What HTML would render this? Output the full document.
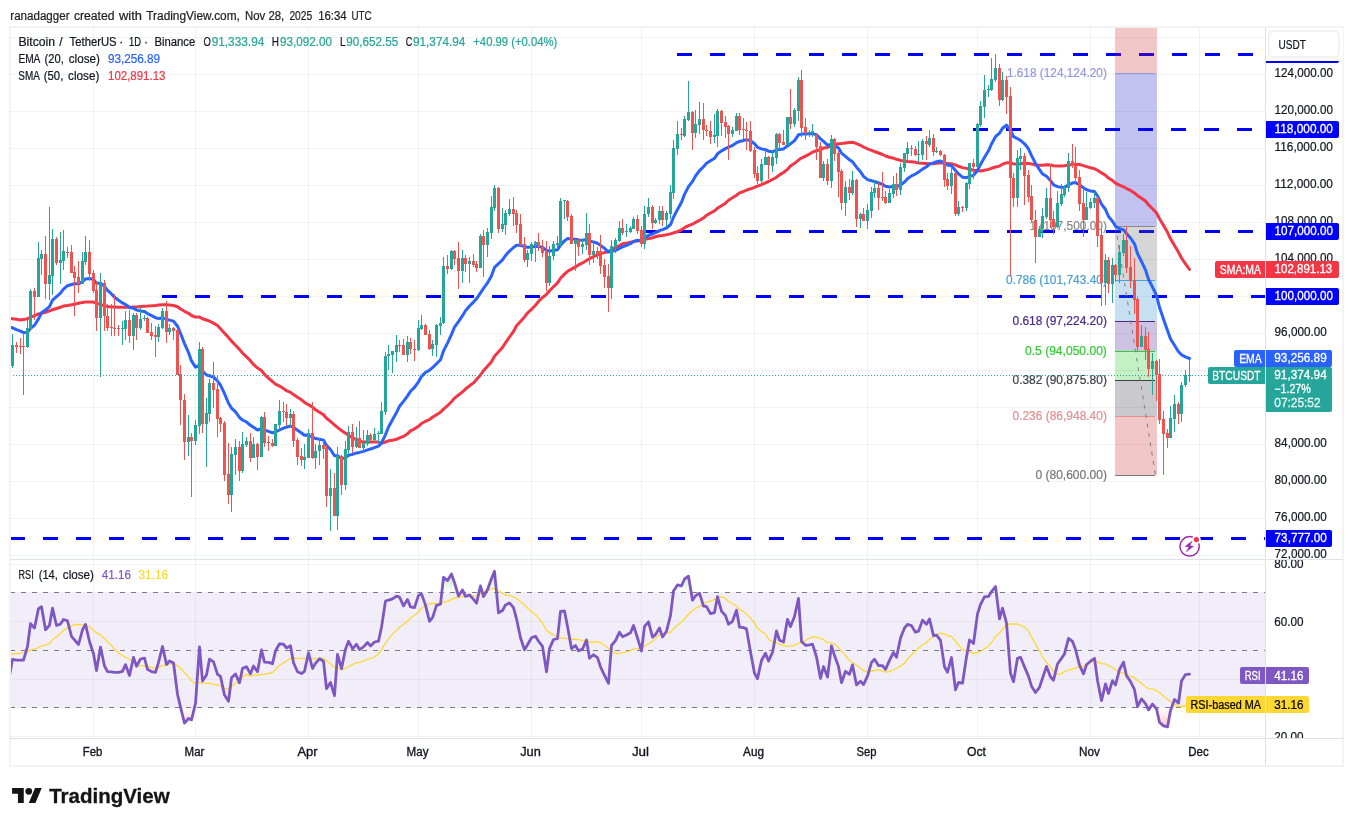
<!DOCTYPE html>
<html lang="en"><head><meta charset="utf-8"><title>BTCUSDT 1D - TradingView</title>
<style>html,body{margin:0;padding:0;background:#fff;overflow:hidden}body{width:1353px;height:826px}</style></head>
<body>
<svg width="1353" height="826" viewBox="0 0 1353 826" font-family='"Liberation Sans", Arial, sans-serif' font-size="12" fill="#131722" style="display:block">
<defs><clipPath id="cm"><rect x="11" y="28" width="1254" height="531"/></clipPath><clipPath id="cr"><rect x="11" y="560" width="1254" height="178"/></clipPath><clipPath id="cpa"><rect x="1266" y="28" width="77" height="531"/></clipPath><clipPath id="cra"><rect x="1266" y="560" width="77" height="178"/></clipPath><linearGradient id="gob" gradientUnits="userSpaceOnUse" x1="0" y1="564" x2="0" y2="593"><stop offset="0" stop-color="#4caf50" stop-opacity="0.5"/><stop offset="1" stop-color="#4caf50" stop-opacity="0"/></linearGradient><linearGradient id="gos" gradientUnits="userSpaceOnUse" x1="0" y1="708" x2="0" y2="737"><stop offset="0" stop-color="#ff5252" stop-opacity="0"/><stop offset="1" stop-color="#ff5252" stop-opacity="0.5"/></linearGradient></defs>
<rect x="0" y="0" width="1353" height="826" fill="#ffffff"/>
<rect x="10" y="27" width="1333" height="739" fill="#ffffff" stroke="#f3f3f3" stroke-width="2"/>
<text y="19.5" fill="#1e1e1e" stroke="#1e1e1e" stroke-width="0.22"><tspan x="10.3" textLength="59.2" lengthAdjust="spacingAndGlyphs">ranadagger</tspan> <tspan x="73.9" textLength="40.7" lengthAdjust="spacingAndGlyphs">created</tspan> <tspan x="119" textLength="22.9" lengthAdjust="spacingAndGlyphs">with</tspan> <tspan x="146.3" textLength="93.6" lengthAdjust="spacingAndGlyphs">TradingView.com,</tspan> <tspan x="245" textLength="39.2" lengthAdjust="spacingAndGlyphs">Nov 28,</tspan> <tspan x="289.4" textLength="22.9" lengthAdjust="spacingAndGlyphs">2025</tspan> <tspan x="318.2" textLength="28.5" lengthAdjust="spacingAndGlyphs">16:34</tspan> <tspan x="351.5" textLength="20.2" lengthAdjust="spacingAndGlyphs">UTC</tspan></text>
<g shape-rendering="crispEdges" stroke="#2a2e39" stroke-opacity="0.06">
<path d="M93.5 28V559"/>
<path d="M195.5 28V559"/>
<path d="M308.5 28V559"/>
<path d="M418.5 28V559"/>
<path d="M531.5 28V559"/>
<path d="M641.5 28V559"/>
<path d="M754.5 28V559"/>
<path d="M867.5 28V559"/>
<path d="M977.5 28V559"/>
<path d="M1090.5 28V559"/>
<path d="M1199.5 28V559"/>
<path d="M10 37.5H1265"/>
<path d="M10 74.5H1265"/>
<path d="M10 111.5H1265"/>
<path d="M10 148.5H1265"/>
<path d="M10 185.5H1265"/>
<path d="M10 222.5H1265"/>
<path d="M10 259.5H1265"/>
<path d="M10 296.5H1265"/>
<path d="M10 333.5H1265"/>
<path d="M10 370.5H1265"/>
<path d="M10 407.5H1265"/>
<path d="M10 444.5H1265"/>
<path d="M10 481.5H1265"/>
<path d="M10 518.5H1265"/>
<path d="M10 555.5H1265"/>
</g>
<rect x="11" y="592" width="1254" height="116" fill="#7e57c2" fill-opacity="0.1"/>
<g shape-rendering="crispEdges" stroke="#2a2e39" stroke-opacity="0.06">
<path d="M93.5 560V738"/>
<path d="M195.5 560V738"/>
<path d="M308.5 560V738"/>
<path d="M418.5 560V738"/>
<path d="M531.5 560V738"/>
<path d="M641.5 560V738"/>
<path d="M754.5 560V738"/>
<path d="M867.5 560V738"/>
<path d="M977.5 560V738"/>
<path d="M1090.5 560V738"/>
<path d="M1199.5 560V738"/>
<path d="M10 564.5H1265"/>
<path d="M10 621.5H1265"/>
<path d="M10 679.5H1265"/>
<path d="M10 736.5H1265"/>
</g>
<g clip-path="url(#cm)">
<path d="M677 54.5H1265" stroke="#0000ff" stroke-width="3" stroke-dasharray="15 18" fill="none" shape-rendering="crispEdges"/>
<path d="M874 129.5H1265" stroke="#0000ff" stroke-width="3" stroke-dasharray="15 18" fill="none" shape-rendering="crispEdges"/>
<path d="M644 231.5H1265" stroke="#0000ff" stroke-width="3" stroke-dasharray="15 18" fill="none" shape-rendering="crispEdges"/>
<path d="M162 296.5H1265" stroke="#0000ff" stroke-width="3" stroke-dasharray="15 18" fill="none" shape-rendering="crispEdges"/>
<path d="M10 538.5H1265" stroke="#0000ff" stroke-width="3" stroke-dasharray="15 18" fill="none" shape-rendering="crispEdges"/>
<rect x="1115" y="28" width="42" height="45.5" fill="#c81e1e" fill-opacity="0.25"/>
<rect x="1115" y="73.5" width="42" height="153" fill="#0a0ac8" fill-opacity="0.25"/>
<rect x="1115" y="226.5" width="42" height="54" fill="#5a5a5e" fill-opacity="0.25"/>
<rect x="1115" y="280.5" width="42" height="41" fill="#1c80c8" fill-opacity="0.25"/>
<rect x="1115" y="321.5" width="42" height="30" fill="#3a0a8a" fill-opacity="0.25"/>
<rect x="1115" y="351.5" width="42" height="29" fill="#14c814" fill-opacity="0.25"/>
<rect x="1115" y="380.5" width="42" height="36" fill="#28283c" fill-opacity="0.25"/>
<rect x="1115" y="416.5" width="42" height="59" fill="#c81e1e" fill-opacity="0.25"/>
<line x1="1115" y1="73.5" x2="1155" y2="73.5" stroke="#9598e3" stroke-width="1" shape-rendering="crispEdges"/>
<line x1="1115" y1="226.5" x2="1155" y2="226.5" stroke="#8a8a8a" stroke-width="1" shape-rendering="crispEdges"/>
<line x1="1115" y1="280.5" x2="1155" y2="280.5" stroke="#4a9fd4" stroke-width="1" shape-rendering="crispEdges"/>
<line x1="1115" y1="321.5" x2="1155" y2="321.5" stroke="#4b2a8a" stroke-width="1" shape-rendering="crispEdges"/>
<line x1="1115" y1="351.5" x2="1155" y2="351.5" stroke="#32cd32" stroke-width="1" shape-rendering="crispEdges"/>
<line x1="1115" y1="380.5" x2="1155" y2="380.5" stroke="#3f3f4a" stroke-width="1" shape-rendering="crispEdges"/>
<line x1="1115" y1="416.5" x2="1155" y2="416.5" stroke="#e58f8f" stroke-width="1" shape-rendering="crispEdges"/>
<line x1="1115" y1="475.5" x2="1155" y2="475.5" stroke="#787878" stroke-width="1" shape-rendering="crispEdges"/>
<path d="M1115.5 226.5L1155.5 475.5" stroke="#808080" stroke-width="1" stroke-dasharray="4 5.5" fill="none"/>
<text x="1106.9" y="77.2" fill="#9598e3" text-anchor="end" textLength="100" lengthAdjust="spacingAndGlyphs" stroke="#9598e3" stroke-width="0.22">1.618 (124,124.20)</text>
<text x="1106.9" y="230.2" fill="#8a8a8a" text-anchor="end" textLength="77.4" lengthAdjust="spacingAndGlyphs" stroke="#8a8a8a" stroke-width="0.22">1 (107,500.00)</text>
<text x="1106.9" y="284.2" fill="#4a9fd4" text-anchor="end" textLength="100.9" lengthAdjust="spacingAndGlyphs" stroke="#4a9fd4" stroke-width="0.22">0.786 (101,743.40)</text>
<text x="1106.9" y="325.2" fill="#4b2a8a" text-anchor="end" textLength="94.4" lengthAdjust="spacingAndGlyphs" stroke="#4b2a8a" stroke-width="0.22">0.618 (97,224.20)</text>
<text x="1106.9" y="355.2" fill="#32cd32" text-anchor="end" textLength="81.9" lengthAdjust="spacingAndGlyphs" stroke="#32cd32" stroke-width="0.22">0.5 (94,050.00)</text>
<text x="1106.9" y="384.2" fill="#3f3f4a" text-anchor="end" textLength="94.4" lengthAdjust="spacingAndGlyphs" stroke="#3f3f4a" stroke-width="0.22">0.382 (90,875.80)</text>
<text x="1106.9" y="420.2" fill="#e58f8f" text-anchor="end" textLength="94.4" lengthAdjust="spacingAndGlyphs" stroke="#e58f8f" stroke-width="0.22">0.236 (86,948.40)</text>
<text x="1106.9" y="479.2" fill="#787878" text-anchor="end" textLength="71.4" lengthAdjust="spacingAndGlyphs" stroke="#787878" stroke-width="0.22">0 (80,600.00)</text>
<path d="M9.5 318.2L12.5 318.7L16.5 319.3L20.5 320L23.5 319.6L27.5 318.7L30.5 317.3L34.5 315.6L38.5 314L41.5 313.2L45.5 312.4L49.5 310.8L52.5 309.7L56.5 308.5L60.5 307.2L63.5 306.1L67.5 305.5L71.5 304.8L74.5 304.2L78.5 303.3L82.5 302.4L85.5 302.1L89.5 301.9L93.5 302.1L96.5 303.1L100.5 304.5L104.5 305.9L107.5 306.5L111.5 306.9L114.5 307.1L118.5 307.3L122.5 307.3L125.5 307.3L129.5 307.3L133.5 307.1L136.5 306.9L140.5 306.5L144.5 306.2L147.5 306.1L151.5 305.8L155.5 305.4L158.5 305L162.5 304.8L166.5 304.8L169.5 305L173.5 305.5L177.5 306.8L180.5 309L184.5 311.3L188.5 313.3L191.5 315.5L195.5 317.1L199.5 317.1L202.5 318.7L206.5 320L209.5 321.1L213.5 323.1L217.5 325.5L220.5 328.8L224.5 333.2L228.5 337.5L231.5 341.1L235.5 345.2L239.5 349.4L242.5 353L246.5 356.8L250.5 360.9L253.5 364.4L257.5 368L261.5 370.6L264.5 374.3L268.5 378.1L272.5 381.5L275.5 384.2L279.5 386.1L283.5 388.6L286.5 390.7L290.5 392.4L293.5 394.6L297.5 397.2L301.5 399.8L304.5 402.4L308.5 404.7L312.5 407.1L315.5 409.8L319.5 412.2L323.5 414.8L326.5 418.3L330.5 421.4L334.5 425L337.5 427.4L341.5 430.6L345.5 433.3L348.5 435.3L352.5 437.7L356.5 439.8L359.5 441.3L363.5 442.1L367.5 442L370.5 442.1L374.5 441.9L378.5 442.1L381.5 443.3L385.5 442L388.5 440.8L392.5 440.2L396.5 439.3L399.5 437.8L403.5 436.4L407.5 433.8L410.5 430.9L414.5 428.8L418.5 426.4L421.5 423.5L425.5 421.3L429.5 419.5L432.5 417.2L436.5 414.8L440.5 412.2L443.5 409.1L447.5 405.7L451.5 401.8L454.5 398.1L458.5 395L462.5 391.9L465.5 389L469.5 385.8L473.5 382.9L476.5 379.4L480.5 375L483.5 370.7L487.5 366.2L491.5 361.7L494.5 356.3L498.5 351.8L502.5 347.4L505.5 342.7L509.5 337L513.5 331.5L516.5 325.7L520.5 321.4L524.5 316.9L527.5 313L531.5 309.3L535.5 305.2L538.5 301.4L542.5 297.5L546.5 294.3L549.5 290.7L553.5 286.8L557.5 282.9L560.5 278.3L564.5 274.1L567.5 271.3L571.5 269.1L575.5 266.9L578.5 264.9L582.5 262.9L586.5 260.4L589.5 258.7L593.5 256.7L597.5 254.8L600.5 253.6L604.5 252.6L608.5 251.6L611.5 249.6L615.5 247.5L619.5 245.6L622.5 243.8L626.5 243.1L630.5 242.2L633.5 241.6L637.5 241L641.5 240.5L644.5 239.6L648.5 238.5L652.5 237.7L655.5 236.8L659.5 235.7L662.5 235.4L666.5 234.7L670.5 233.9L673.5 232.8L677.5 231.7L681.5 229.8L684.5 227.7L688.5 225.7L692.5 224.2L695.5 222.4L699.5 220.3L703.5 218L706.5 215.4L710.5 213L714.5 210.9L717.5 208.2L721.5 205.7L725.5 203.2L728.5 200.2L732.5 197.7L736.5 195.2L739.5 192.9L743.5 191.5L746.5 190.1L750.5 188.8L754.5 187.4L757.5 186.2L761.5 184.6L765.5 182.8L768.5 181.5L772.5 179.5L776.5 177.2L779.5 174.9L783.5 172.5L787.5 169.3L790.5 166L794.5 163.3L798.5 160.1L801.5 158.1L805.5 156.1L809.5 154.1L812.5 152.2L816.5 150.7L820.5 149.7L823.5 148.1L827.5 147.4L831.5 146L834.5 144.7L838.5 143.7L841.5 143.5L845.5 142.9L849.5 142.5L852.5 142.2L856.5 143.7L860.5 145.3L863.5 147L867.5 148.8L871.5 150.4L874.5 151.5L878.5 153L882.5 154.5L885.5 156L889.5 157.2L893.5 158.2L896.5 159.3L900.5 160.4L904.5 161L907.5 161.4L911.5 161.8L915.5 162.3L918.5 163L922.5 163.2L926.5 163.5L929.5 163.7L933.5 163.7L936.5 163.2L940.5 162.7L944.5 163L947.5 163.6L951.5 163.7L955.5 164.9L958.5 166.3L962.5 167.6L966.5 168.4L969.5 169.3L973.5 170.2L977.5 170.5L980.5 171L984.5 170.2L988.5 169.4L991.5 168.3L995.5 167L999.5 166.1L1002.5 164.2L1006.5 162.8L1010.5 162.8L1013.5 163.9L1017.5 164L1020.5 163.7L1024.5 163.2L1028.5 163.4L1031.5 163.9L1035.5 165L1039.5 165.2L1042.5 165.3L1046.5 164.8L1050.5 165L1053.5 165.7L1057.5 166L1061.5 166L1064.5 165.7L1068.5 164.9L1072.5 164.4L1075.5 164.2L1079.5 164.5L1083.5 165.6L1086.5 166.6L1090.5 167.7L1094.5 168.7L1097.5 170.3L1101.5 172.9L1105.5 175.3L1108.5 178.1L1112.5 180.6L1115.5 183.1L1119.5 185.1L1123.5 186.8L1126.5 188.5L1130.5 190.4L1134.5 193L1137.5 195.6L1141.5 198.2L1145.5 201L1148.5 204.8L1152.5 208.7L1156.5 212.9L1159.5 218.8L1163.5 225.4L1167.5 232.3L1170.5 238.9L1174.5 245.4L1178.5 252.3L1181.5 258L1185.5 263.9L1189.5 269.5" fill="none" stroke="#f23645" stroke-width="3" stroke-linejoin="round" stroke-linecap="round"/>
<path d="M6 326.6L12.5 327.8L16.5 329.6L20.5 331.2L23.5 332.7L27.5 332.3L30.5 328.4L34.5 325.3L38.5 318.9L41.5 312.8L45.5 310L49.5 306.7L52.5 300.2L56.5 296.7L60.5 293.2L63.5 289.2L67.5 285.7L71.5 284.5L74.5 283.8L78.5 283.8L82.5 281.7L85.5 278.9L89.5 278.4L93.5 279.5L96.5 283.2L100.5 283.2L104.5 286.3L107.5 290.3L111.5 293.9L114.5 297.2L118.5 300.2L122.5 302.9L125.5 304.5L129.5 307.5L133.5 308.2L136.5 310.1L140.5 310.9L144.5 311.6L147.5 313.6L151.5 315.7L155.5 317.7L158.5 318.6L162.5 317.9L166.5 319.3L169.5 320.1L173.5 321.1L177.5 326.2L180.5 333.3L184.5 343.6L188.5 352.5L191.5 360.9L195.5 367.1L199.5 365.4L202.5 371L206.5 375L209.5 375.8L213.5 377.1L217.5 381L220.5 385.1L224.5 393.6L228.5 403.3L231.5 408.1L235.5 411.9L239.5 417.5L242.5 420L246.5 422L250.5 425.4L253.5 427.2L257.5 430L261.5 428.8L264.5 430.1L268.5 431.4L272.5 432.8L275.5 431.9L279.5 430L283.5 428.2L286.5 427.2L290.5 426L293.5 427.4L297.5 430.2L301.5 433L304.5 435.3L308.5 435.1L312.5 437.2L315.5 438.6L319.5 439.2L323.5 440.1L326.5 445.4L330.5 449.5L334.5 455.8L337.5 455.8L341.5 458.6L345.5 457.7L348.5 455.3L352.5 454.4L356.5 452.9L359.5 452.4L363.5 451.4L367.5 449.9L370.5 449L374.5 447.6L378.5 446.2L381.5 442.9L385.5 434.6L388.5 427L392.5 419.7L396.5 412.6L399.5 406.3L403.5 401.4L407.5 395.8L410.5 391.3L414.5 387.4L418.5 381.8L421.5 376.4L425.5 372.4L429.5 370.2L432.5 367.7L436.5 363.7L440.5 359.8L443.5 350.9L447.5 343.1L451.5 334.3L454.5 327.1L458.5 321.7L462.5 315.7L465.5 310.7L469.5 306L473.5 302.1L476.5 298.8L480.5 292.8L483.5 288.3L487.5 282.9L491.5 275.7L494.5 267.4L498.5 263.7L502.5 259.9L505.5 255.5L509.5 251.1L513.5 247.5L516.5 245.3L520.5 245.3L524.5 246.7L527.5 247.3L531.5 247L535.5 246.6L538.5 246.6L542.5 247.2L546.5 250.6L549.5 251.1L553.5 250.5L557.5 249.8L560.5 245.1L564.5 240.9L567.5 238.6L571.5 239.1L575.5 239.2L578.5 239.9L582.5 240.3L586.5 239.6L589.5 241.1L593.5 242L597.5 243.2L600.5 245.4L604.5 248.3L608.5 252.1L611.5 251.5L615.5 250.4L619.5 248.3L622.5 246.9L626.5 245.3L630.5 243.7L633.5 241.4L637.5 240.3L641.5 240.7L644.5 238.1L648.5 235.2L652.5 234L655.5 232.6L659.5 230.6L662.5 229.6L666.5 228L670.5 224.6L673.5 217.3L677.5 209.4L681.5 202.3L684.5 194.4L688.5 186.6L692.5 181.4L695.5 176L699.5 170.6L703.5 166.7L706.5 163.3L710.5 160.8L714.5 158.3L717.5 153.8L721.5 150.9L725.5 148.6L728.5 147.2L732.5 145.5L736.5 142.7L739.5 141.5L743.5 140.5L746.5 139.6L750.5 140.7L754.5 143.8L757.5 147.3L761.5 148.9L765.5 149.7L768.5 151.2L772.5 151.8L776.5 150.1L779.5 149.4L783.5 148.9L787.5 145.9L790.5 143.8L794.5 140.6L798.5 134.8L801.5 134.1L805.5 134L809.5 133.8L812.5 133.6L816.5 134.8L820.5 138.9L823.5 141.3L827.5 145.1L831.5 144.5L834.5 145.4L838.5 147.9L841.5 153.1L845.5 156.4L849.5 159.8L852.5 161.8L856.5 167.2L860.5 171.7L863.5 176.4L867.5 179.6L871.5 180.8L874.5 181.5L878.5 183L882.5 184.4L885.5 186.2L889.5 186.9L893.5 186.6L896.5 186.9L900.5 185L904.5 182L907.5 178.8L911.5 175.9L915.5 174L918.5 172.1L922.5 169.1L926.5 166.8L929.5 164.1L933.5 162.9L936.5 161.7L940.5 161.1L944.5 162.9L947.5 165.1L951.5 165.8L955.5 170.4L958.5 173.9L962.5 177.2L966.5 177.7L969.5 176.3L973.5 175.4L977.5 170.5L980.5 164.4L984.5 157.3L988.5 150.8L991.5 144L995.5 136.7L999.5 133.2L1002.5 128.2L1006.5 125.2L1010.5 130.2L1013.5 136.7L1017.5 138.7L1020.5 140.4L1024.5 143.8L1028.5 148.8L1031.5 155.6L1035.5 163.3L1039.5 169.6L1042.5 174L1046.5 176.3L1050.5 180.5L1053.5 184.9L1057.5 186.6L1061.5 187.4L1064.5 187.3L1068.5 184.9L1072.5 183L1075.5 182.6L1079.5 184.6L1083.5 187.9L1086.5 189.7L1090.5 190.9L1094.5 191.6L1097.5 195.8L1101.5 204.1L1105.5 209.5L1108.5 216.5L1112.5 221.2L1115.5 226.3L1119.5 228.7L1123.5 229.8L1126.5 233.5L1130.5 238L1134.5 243.8L1137.5 253.6L1141.5 261.5L1145.5 269.9L1148.5 279.3L1152.5 287.1L1156.5 295.5L1159.5 307.3L1163.5 319.3L1167.5 330.6L1170.5 338.9L1174.5 345.2L1178.5 351.7L1181.5 354.8L1185.5 356.8L1189.5 358.5" fill="none" stroke="#2962ff" stroke-width="3" stroke-linejoin="round" stroke-linecap="round"/>
<path d="M12 334h1v34h-1zM11 345h3v21h-3zM27 320h1v28h-1zM26 328h3v19h-3zM30 289h1v40h-1zM29 291h3v38h-3zM38 242h1v55h-1zM37 258h3v39h-3zM41 250h1v25h-1zM40 254h3v5h-3zM49 207h1v93h-1zM48 275h3v9h-3zM52 229h1v66h-1zM51 239h3v37h-3zM60 232h1v52h-1zM59 260h3v3h-3zM63 230h1v40h-1zM62 251h3v10h-3zM82 252h1v32h-1zM81 261h3v23h-3zM85 236h1v29h-1zM84 252h3v10h-3zM100 273h1v104h-1zM99 283h3v35h-3zM122 321h1v24h-1zM121 328h3v1h-3zM125 311h1v29h-1zM124 320h3v9h-3zM133 313h1v37h-1zM132 315h3v21h-3zM140 307h1v23h-1zM139 319h3v9h-3zM144 315h1v6h-1zM143 318h3v1h-3zM158 324h1v18h-1zM157 327h3v10h-3zM162 308h1v21h-1zM161 311h3v17h-3zM169 324h1v11h-1zM168 328h3v4h-3zM188 415h1v41h-1zM187 437h3v5h-3zM195 420h1v25h-1zM194 425h3v16h-3zM199 342h1v92h-1zM198 349h3v77h-3zM206 398h1v69h-1zM205 413h3v11h-3zM209 379h1v43h-1zM208 383h3v31h-3zM231 447h1v65h-1zM230 454h3v41h-3zM235 439h1v36h-1zM234 447h3v8h-3zM242 432h1v41h-1zM241 444h3v27h-3zM246 437h1v10h-1zM245 441h3v4h-3zM253 437h1v21h-1zM252 444h3v14h-3zM261 416h1v41h-1zM260 417h3v40h-3zM275 424h1v22h-1zM274 424h3v22h-3zM279 400h1v30h-1zM278 411h3v14h-3zM290 409h1v18h-1zM289 414h3v4h-3zM304 444h1v25h-1zM303 457h3v3h-3zM308 429h1v29h-1zM307 433h3v25h-3zM315 444h1v25h-1zM314 451h3v7h-3zM319 438h1v27h-1zM318 445h3v6h-3zM330 469h1v62h-1zM329 488h3v8h-3zM337 447h1v83h-1zM336 456h3v60h-3zM345 441h1v49h-1zM344 449h3v36h-3zM348 426h1v28h-1zM347 432h3v18h-3zM356 427h1v21h-1zM355 438h3v9h-3zM363 430h1v22h-1zM362 443h3v5h-3zM367 430h1v16h-1zM366 435h3v9h-3zM374 428h1v13h-1zM373 434h3v6h-3zM378 431h1v12h-1zM377 433h3v1h-3zM381 402h1v32h-1zM380 411h3v23h-3zM385 352h1v63h-1zM384 356h3v56h-3zM388 345h1v25h-1zM387 354h3v2h-3zM392 351h1v22h-1zM391 351h3v4h-3zM396 335h1v27h-1zM395 345h3v7h-3zM407 336h1v26h-1zM406 342h3v13h-3zM418 320h1v31h-1zM417 328h3v22h-3zM421 315h1v15h-1zM420 325h3v4h-3zM432 340h1v16h-1zM431 344h3v5h-3zM436 324h1v33h-1zM435 325h3v20h-3zM440 317h1v18h-1zM439 323h3v3h-3zM443 257h1v67h-1zM442 266h3v57h-3zM451 250h1v20h-1zM450 251h3v18h-3zM462 250h1v33h-1zM461 258h3v13h-3zM469 257h1v26h-1zM468 261h3v3h-3zM480 234h1v34h-1zM479 236h3v32h-3zM487 228h1v29h-1zM486 232h3v13h-3zM491 196h1v43h-1zM490 207h3v26h-3zM494 185h1v26h-1zM493 188h3v20h-3zM502 208h1v24h-1zM501 224h3v5h-3zM505 210h1v25h-1zM504 213h3v12h-3zM509 199h1v17h-1zM508 209h3v5h-3zM527 250h1v17h-1zM526 253h3v7h-3zM531 242h1v19h-1zM530 244h3v10h-3zM535 241h1v21h-1zM534 242h3v3h-3zM549 246h1v40h-1zM548 256h3v27h-3zM553 241h1v19h-1zM552 244h3v12h-3zM557 236h1v13h-1zM556 243h3v2h-3zM560 198h1v48h-1zM559 201h3v43h-3zM564 200h1v19h-1zM563 200h3v1h-3zM575 239h1v32h-1zM574 240h3v4h-3zM582 239h1v15h-1zM581 244h3v3h-3zM586 213h1v37h-1zM585 233h3v12h-3zM593 244h1v19h-1zM592 251h3v4h-3zM611 240h1v59h-1zM610 246h3v42h-3zM615 238h1v15h-1zM614 240h3v7h-3zM619 221h1v21h-1zM618 228h3v13h-3zM626 224h1v13h-1zM625 231h3v1h-3zM630 226h1v7h-1zM629 228h3v4h-3zM633 217h1v12h-1zM632 219h3v10h-3zM644 206h1v43h-1zM643 214h3v30h-3zM648 198h1v19h-1zM647 207h3v7h-3zM655 218h1v6h-1zM654 220h3v3h-3zM659 206h1v18h-1zM658 211h3v9h-3zM666 211h1v16h-1zM665 213h3v7h-3zM670 185h1v34h-1zM669 192h3v22h-3zM673 140h1v59h-1zM672 148h3v45h-3zM677 121h1v34h-1zM676 134h3v15h-3zM684 116h1v21h-1zM683 119h3v17h-3zM688 81h1v40h-1zM687 112h3v8h-3zM695 110h1v28h-1zM694 124h3v9h-3zM699 102h1v32h-1zM698 119h3v6h-3zM714 114h1v29h-1zM713 135h3v2h-3zM717 109h1v38h-1zM716 111h3v25h-3zM732 127h1v10h-1zM731 130h3v4h-3zM736 113h1v18h-1zM735 116h3v15h-3zM761 159h1v27h-1zM760 164h3v17h-3zM765 150h1v15h-1zM764 157h3v8h-3zM772 151h1v21h-1zM771 157h3v9h-3zM776 133h1v31h-1zM775 134h3v24h-3zM787 117h1v28h-1zM786 117h3v28h-3zM794 108h1v19h-1zM793 110h3v14h-3zM798 77h1v44h-1zM797 80h3v31h-3zM809 130h1v7h-1zM808 132h3v1h-3zM812 124h1v13h-1zM811 131h3v2h-3zM823 161h1v20h-1zM822 164h3v14h-3zM831 135h1v53h-1zM830 139h3v42h-3zM845 181h1v35h-1zM844 187h3v16h-3zM852 171h1v24h-1zM851 180h3v13h-3zM860 213h1v15h-1zM859 214h3v5h-3zM867 204h1v25h-1zM866 210h3v11h-3zM871 187h1v31h-1zM870 192h3v19h-3zM874 180h1v18h-1zM873 188h3v5h-3zM889 189h1v14h-1zM888 193h3v10h-3zM893 176h1v22h-1zM892 184h3v10h-3zM900 163h1v32h-1zM899 167h3v23h-3zM904 153h1v19h-1zM903 153h3v15h-3zM907 142h1v18h-1zM906 148h3v6h-3zM918 141h1v22h-1zM917 154h3v1h-3zM922 139h1v21h-1zM921 141h3v14h-3zM929 130h1v17h-1zM928 138h3v7h-3zM936 147h1v6h-1zM935 151h3v1h-3zM951 167h1v27h-1zM950 173h3v13h-3zM958 201h1v15h-1zM957 207h3v7h-3zM966 182h1v29h-1zM965 183h3v25h-3zM969 163h1v26h-1zM968 163h3v21h-3zM977 123h1v45h-1zM976 124h3v43h-3zM980 101h1v26h-1zM979 106h3v19h-3zM984 75h1v43h-1zM983 90h3v17h-3zM988 85h1v12h-1zM987 89h3v1h-3zM991 58h1v33h-1zM990 79h3v11h-3zM995 54h1v28h-1zM994 68h3v12h-3zM1002 72h1v29h-1zM1001 80h3v20h-3zM1017 150h1v57h-1zM1016 158h3v40h-3zM1020 148h1v22h-1zM1019 156h3v3h-3zM1039 226h1v11h-1zM1038 229h3v8h-3zM1042 208h1v30h-1zM1041 216h3v13h-3zM1046 188h1v31h-1zM1045 198h3v19h-3zM1057 191h1v37h-1zM1056 203h3v24h-3zM1061 184h1v22h-1zM1060 194h3v10h-3zM1064 185h1v12h-1zM1063 187h3v8h-3zM1068 153h1v39h-1zM1067 161h3v27h-3zM1086 192h1v28h-1zM1085 207h3v13h-3zM1090 198h1v11h-1zM1089 202h3v6h-3zM1094 192h1v16h-1zM1093 198h3v5h-3zM1105 254h1v51h-1zM1104 260h3v23h-3zM1112 258h1v45h-1zM1111 265h3v19h-3zM1119 245h1v38h-1zM1118 252h3v23h-3zM1123 234h1v22h-1zM1122 240h3v13h-3zM1141 325h1v22h-1zM1140 336h3v11h-3zM1152 353h1v42h-1zM1151 361h3v8h-3zM1170 406h1v32h-1zM1169 418h3v20h-3zM1174 395h1v37h-1zM1173 404h3v15h-3zM1181 382h1v40h-1zM1180 385h3v29h-3zM1185 370h1v17h-1zM1184 375h3v10h-3zM1189 360h1v22h-1zM1188 375h3v1h-3z" fill="#26a69a" shape-rendering="crispEdges"/>
<path d="M16 342h1v11h-1zM15 345h3v2h-3zM20 338h1v16h-1zM19 346h3v1h-3zM23 333h1v62h-1zM22 346h3v1h-3zM34 288h1v32h-1zM33 291h3v6h-3zM45 236h1v63h-1zM44 254h3v30h-3zM56 237h1v28h-1zM55 239h3v24h-3zM67 247h1v11h-1zM66 252h3v1h-3zM71 245h1v28h-1zM70 252h3v21h-3zM74 266h1v50h-1zM73 272h3v6h-3zM78 261h1v32h-1zM77 277h3v7h-3zM89 240h1v41h-1zM88 252h3v22h-3zM93 270h1v23h-1zM92 273h3v18h-3zM96 282h1v49h-1zM95 290h3v28h-3zM104 280h1v51h-1zM103 283h3v33h-3zM107 304h1v27h-1zM106 316h3v12h-3zM111 304h1v32h-1zM110 327h3v1h-3zM114 294h1v42h-1zM113 328h3v1h-3zM118 325h1v11h-1zM117 328h3v1h-3zM129 310h1v33h-1zM128 320h3v16h-3zM136 313h1v27h-1zM135 315h3v13h-3zM147 317h1v16h-1zM146 318h3v15h-3zM151 323h1v17h-1zM150 332h3v4h-3zM155 326h1v31h-1zM154 335h3v2h-3zM166 301h1v42h-1zM165 311h3v21h-3zM173 327h1v13h-1zM172 328h3v3h-3zM177 328h1v47h-1zM176 330h3v45h-3zM180 365h1v60h-1zM179 374h3v26h-3zM184 394h1v66h-1zM183 400h3v42h-3zM191 433h1v64h-1zM190 437h3v4h-3zM202 347h1v86h-1zM201 349h3v75h-3zM213 362h1v46h-1zM212 383h3v7h-3zM217 375h1v62h-1zM216 389h3v30h-3zM220 417h1v15h-1zM219 418h3v6h-3zM224 421h1v60h-1zM223 423h3v52h-3zM228 443h1v61h-1zM227 474h3v21h-3zM239 441h1v40h-1zM238 447h3v24h-3zM250 433h1v29h-1zM249 441h3v17h-3zM257 443h1v27h-1zM256 444h3v13h-3zM264 412h1v35h-1zM263 417h3v26h-3zM268 436h1v15h-1zM267 442h3v1h-3zM272 439h1v8h-1zM271 443h3v3h-3zM283 402h1v20h-1zM282 411h3v1h-3zM286 404h1v22h-1zM285 412h3v6h-3zM293 411h1v36h-1zM292 414h3v27h-3zM297 438h1v27h-1zM296 440h3v17h-3zM301 448h1v18h-1zM300 456h3v4h-3zM312 402h1v57h-1zM311 433h3v25h-3zM323 441h1v18h-1zM322 445h3v4h-3zM326 445h1v62h-1zM325 448h3v48h-3zM334 473h1v43h-1zM333 488h3v28h-3zM341 455h1v40h-1zM340 456h3v29h-3zM352 424h1v29h-1zM351 432h3v15h-3zM359 421h1v27h-1zM358 438h3v10h-3zM370 433h1v8h-1zM369 435h3v5h-3zM399 340h1v12h-1zM398 345h3v1h-3zM403 339h1v16h-1zM402 345h3v10h-3zM410 338h1v16h-1zM409 342h3v7h-3zM414 340h1v21h-1zM413 349h3v1h-3zM425 324h1v11h-1zM424 325h3v10h-3zM429 330h1v20h-1zM428 334h3v15h-3zM447 255h1v19h-1zM446 266h3v3h-3zM454 250h1v15h-1zM453 251h3v8h-3zM458 242h1v47h-1zM457 258h3v13h-3zM465 255h1v17h-1zM464 258h3v6h-3zM473 254h1v13h-1zM472 261h3v4h-3zM476 261h1v11h-1zM475 264h3v4h-3zM483 230h1v47h-1zM482 236h3v9h-3zM498 187h1v46h-1zM497 188h3v41h-3zM513 197h1v29h-1zM512 209h3v5h-3zM516 210h1v23h-1zM515 213h3v12h-3zM520 214h1v32h-1zM519 224h3v21h-3zM524 237h1v25h-1zM523 244h3v16h-3zM538 233h1v18h-1zM537 242h3v5h-3zM542 240h1v17h-1zM541 247h3v6h-3zM546 241h1v50h-1zM545 252h3v31h-3zM567 200h1v21h-1zM566 201h3v16h-3zM571 214h1v30h-1zM570 216h3v28h-3zM578 238h1v18h-1zM577 240h3v7h-3zM589 224h1v41h-1zM588 233h3v22h-3zM597 247h1v12h-1zM596 251h3v3h-3zM600 235h1v39h-1zM599 251h3v15h-3zM604 259h1v29h-1zM603 265h3v12h-3zM608 264h1v48h-1zM607 276h3v12h-3zM622 219h1v16h-1zM621 228h3v5h-3zM637 215h1v19h-1zM636 219h3v12h-3zM641 226h1v21h-1zM640 230h3v14h-3zM652 205h1v24h-1zM651 207h3v16h-3zM662 206h1v20h-1zM661 211h3v9h-3zM681 128h1v12h-1zM680 134h3v1h-3zM692 111h1v39h-1zM691 112h3v21h-3zM703 103h1v37h-1zM702 119h3v11h-3zM706 125h1v11h-1zM705 130h3v1h-3zM710 121h1v23h-1zM709 131h3v6h-3zM721 110h1v26h-1zM720 111h3v12h-3zM725 116h1v22h-1zM724 122h3v5h-3zM728 125h1v35h-1zM727 126h3v8h-3zM739 113h1v22h-1zM738 116h3v14h-3zM743 118h1v21h-1zM742 129h3v1h-3zM746 122h1v28h-1zM745 130h3v1h-3zM750 121h1v31h-1zM749 131h3v20h-3zM754 147h1v31h-1zM753 150h3v24h-3zM757 166h1v18h-1zM756 173h3v8h-3zM768 156h1v23h-1zM767 157h3v8h-3zM779 133h1v16h-1zM778 134h3v9h-3zM783 130h1v15h-1zM782 142h3v3h-3zM790 89h1v40h-1zM789 117h3v7h-3zM801 70h1v67h-1zM800 80h3v48h-3zM805 118h1v22h-1zM804 127h3v6h-3zM816 134h1v26h-1zM815 135h3v12h-3zM820 142h1v36h-1zM819 146h3v32h-3zM827 159h1v26h-1zM826 164h3v17h-3zM834 138h1v23h-1zM833 139h3v15h-3zM838 151h1v46h-1zM837 153h3v19h-3zM841 169h1v41h-1zM840 171h3v32h-3zM849 179h1v21h-1zM848 187h3v6h-3zM856 179h1v48h-1zM855 180h3v39h-3zM863 208h1v13h-1zM862 214h3v7h-3zM878 183h1v27h-1zM877 188h3v10h-3zM882 172h1v29h-1zM881 197h3v1h-3zM885 191h1v13h-1zM884 197h3v6h-3zM896 173h1v23h-1zM895 184h3v6h-3zM911 145h1v11h-1zM910 148h3v1h-3zM915 146h1v10h-1zM914 149h3v6h-3zM926 136h1v24h-1zM925 141h3v3h-3zM933 134h1v22h-1zM932 138h3v14h-3zM940 150h1v6h-1zM939 151h3v4h-3zM944 154h1v33h-1zM943 155h3v25h-3zM947 173h1v17h-1zM946 179h3v7h-3zM955 171h1v45h-1zM954 173h3v41h-3zM962 206h1v6h-1zM961 207h3v1h-3zM973 159h1v20h-1zM972 163h3v4h-3zM999 64h1v42h-1zM998 68h3v32h-3zM1006 76h1v38h-1zM1005 80h3v17h-3zM1010 87h1v189h-1zM1009 96h3v82h-3zM1013 173h1v34h-1zM1012 178h3v20h-3zM1024 153h1v52h-1zM1023 156h3v20h-3zM1028 170h1v32h-1zM1027 175h3v22h-3zM1031 185h1v37h-1zM1030 196h3v24h-3zM1035 210h1v53h-1zM1034 220h3v17h-3zM1050 164h1v64h-1zM1049 198h3v22h-3zM1053 211h1v23h-1zM1052 219h3v8h-3zM1072 144h1v24h-1zM1071 161h3v5h-3zM1075 147h1v36h-1zM1074 165h3v13h-3zM1079 170h1v41h-1zM1078 177h3v27h-3zM1083 189h1v48h-1zM1082 203h3v17h-3zM1097 196h1v51h-1zM1096 198h3v38h-3zM1101 228h1v78h-1zM1100 235h3v48h-3zM1108 257h1v36h-1zM1107 260h3v24h-3zM1115 264h1v18h-1zM1114 265h3v10h-3zM1126 226h1v47h-1zM1125 240h3v28h-3zM1130 246h1v42h-1zM1129 267h3v14h-3zM1134 258h1v56h-1zM1133 280h3v20h-3zM1137 297h1v54h-1zM1136 299h3v48h-3zM1145 327h1v33h-1zM1144 336h3v14h-3zM1148 332h1v45h-1zM1147 349h3v20h-3zM1156 360h1v41h-1zM1155 361h3v14h-3zM1159 359h1v65h-1zM1158 374h3v46h-3zM1163 411h1v64h-1zM1162 419h3v15h-3zM1167 429h1v19h-1zM1166 433h3v5h-3zM1178 402h1v22h-1zM1177 404h3v10h-3z" fill="#ef5350" shape-rendering="crispEdges"/>
<path d="M10 375.5H1208" stroke="#26a69a" stroke-width="1" stroke-dasharray="1 2" fill="none" shape-rendering="crispEdges"/>
</g>
<g transform="translate(1189.6 546.3)"><circle r="9.7" fill="#ffffff" stroke="#9c27b0" stroke-width="1.5"/><path d="M2.3 -5L-4.3 0L-0.6 0.6L-3.3 5.4L3.9 0L0.2 -0.5Z" fill="#9c27b0" stroke="#9c27b0" stroke-width="0.5" stroke-linejoin="round"/><circle cx="6.8" cy="-6.7" r="4.4" fill="#ffffff"/><circle cx="6.8" cy="-6.7" r="2.6" fill="#f23645"/></g>
<text y="46.1" stroke="#131722" stroke-width="0.22"><tspan x="18.4" textLength="36.7" lengthAdjust="spacingAndGlyphs">Bitcoin</tspan> <tspan x="62.6" text-anchor="middle">/</tspan> <tspan x="69.6" textLength="47" lengthAdjust="spacingAndGlyphs">TetherUS</tspan> <tspan x="122.8" text-anchor="middle">·</tspan> <tspan x="129" textLength="12" lengthAdjust="spacingAndGlyphs">1D</tspan> <tspan x="147.7" text-anchor="middle">·</tspan> <tspan x="154.5" textLength="40.8" lengthAdjust="spacingAndGlyphs">Binance</tspan></text>
<text x="203.5" y="46.1" textLength="7.3" lengthAdjust="spacingAndGlyphs" stroke="#131722" stroke-width="0.22">O</text>
<text x="211.7" y="46.1" fill="#26a69a" textLength="52.6" lengthAdjust="spacingAndGlyphs" stroke="#26a69a" stroke-width="0.22">91,333.94</text>
<text x="271.8" y="46.1" textLength="7.2" lengthAdjust="spacingAndGlyphs" stroke="#131722" stroke-width="0.22">H</text>
<text x="280" y="46.1" fill="#26a69a" textLength="52.1" lengthAdjust="spacingAndGlyphs" stroke="#26a69a" stroke-width="0.22">93,092.00</text>
<text x="339.9" y="46.1" textLength="5.6" lengthAdjust="spacingAndGlyphs" stroke="#131722" stroke-width="0.22">L</text>
<text x="346.2" y="46.1" fill="#26a69a" textLength="52" lengthAdjust="spacingAndGlyphs" stroke="#26a69a" stroke-width="0.22">90,652.55</text>
<text x="405.7" y="46.1" textLength="6.6" lengthAdjust="spacingAndGlyphs" stroke="#131722" stroke-width="0.22">C</text>
<text x="413" y="46.1" fill="#26a69a" textLength="52.4" lengthAdjust="spacingAndGlyphs" stroke="#26a69a" stroke-width="0.22">91,374.94</text>
<text x="473.3" y="46.1" fill="#26a69a" textLength="83.9" lengthAdjust="spacingAndGlyphs" stroke="#26a69a" stroke-width="0.22">+40.99 (+0.04%)</text>
<text y="63.2" stroke="#131722" stroke-width="0.22"><tspan x="18.4" textLength="21.4" lengthAdjust="spacingAndGlyphs">EMA</tspan> <tspan x="44.6" textLength="19.2" lengthAdjust="spacingAndGlyphs">(20,</tspan> <tspan x="68.8" textLength="31" lengthAdjust="spacingAndGlyphs">close)</tspan></text>
<text x="108" y="63.2" fill="#2962ff" textLength="52.1" lengthAdjust="spacingAndGlyphs" stroke="#2962ff" stroke-width="0.22">93,256.89</text>
<text y="79.8" stroke="#131722" stroke-width="0.22"><tspan x="18.3" textLength="21" lengthAdjust="spacingAndGlyphs">SMA</tspan> <tspan x="43.8" textLength="19.5" lengthAdjust="spacingAndGlyphs">(50,</tspan> <tspan x="68.1" textLength="31.2" lengthAdjust="spacingAndGlyphs">close)</tspan></text>
<text x="108" y="79.8" fill="#f23645" textLength="57.4" lengthAdjust="spacingAndGlyphs" stroke="#f23645" stroke-width="0.22">102,891.13</text>
<g clip-path="url(#cr)">
<path d="M9.5 592.83L9.5 592.8L12.5 592.8L16.5 592.8L20.5 592.8L23.5 592.8L27.5 592.8L30.5 592.8L34.5 592.8L38.5 592.8L41.5 592.8L45.5 592.8L49.5 592.8L52.5 592.8L56.5 592.8L60.5 592.8L63.5 592.8L67.5 592.8L71.5 592.8L74.5 592.8L78.5 592.8L82.5 592.8L85.5 592.8L89.5 592.8L93.5 592.8L96.5 592.8L100.5 592.8L104.5 592.8L107.5 592.8L111.5 592.8L114.5 592.8L118.5 592.8L122.5 592.8L125.5 592.8L129.5 592.8L133.5 592.8L136.5 592.8L140.5 592.8L144.5 592.8L147.5 592.8L151.5 592.8L155.5 592.8L158.5 592.8L162.5 592.8L166.5 592.8L169.5 592.8L173.5 592.8L177.5 592.8L180.5 592.8L184.5 592.8L188.5 592.8L191.5 592.8L195.5 592.8L199.5 592.8L202.5 592.8L206.5 592.8L209.5 592.8L213.5 592.8L217.5 592.8L220.5 592.8L224.5 592.8L228.5 592.8L231.5 592.8L235.5 592.8L239.5 592.8L242.5 592.8L246.5 592.8L250.5 592.8L253.5 592.8L257.5 592.8L261.5 592.8L264.5 592.8L268.5 592.8L272.5 592.8L275.5 592.8L279.5 592.8L283.5 592.8L286.5 592.8L290.5 592.8L293.5 592.8L297.5 592.8L301.5 592.8L304.5 592.8L308.5 592.8L312.5 592.8L315.5 592.8L319.5 592.8L323.5 592.8L326.5 592.8L330.5 592.8L334.5 592.8L337.5 592.8L341.5 592.8L345.5 592.8L348.5 592.8L352.5 592.8L356.5 592.8L359.5 592.8L363.5 592.8L367.5 592.8L370.5 592.8L374.5 592.8L378.5 592.8L381.5 592.8L385.5 592.8L388.5 592.8L392.5 592.8L396.5 592.8L399.5 592.8L403.5 592.8L407.5 592.8L410.5 592.8L414.5 592.8L418.5 592.8L421.5 592.8L425.5 592.8L429.5 592.8L432.5 592.8L436.5 592.8L440.5 592.8L443.5 577.3L447.5 580.6L451.5 574L454.5 582.6L458.5 592.8L462.5 590L465.5 592.8L469.5 592.8L473.5 592.8L476.5 592.8L480.5 585.9L483.5 592.8L487.5 589.8L491.5 578.5L494.5 571.3L498.5 592.8L502.5 592.8L505.5 592.8L509.5 592.8L513.5 592.8L516.5 592.8L520.5 592.8L524.5 592.8L527.5 592.8L531.5 592.8L535.5 592.8L538.5 592.8L542.5 592.8L546.5 592.8L549.5 592.8L553.5 592.8L557.5 592.8L560.5 592.8L564.5 592.8L567.5 592.8L571.5 592.8L575.5 592.8L578.5 592.8L582.5 592.8L586.5 592.8L589.5 592.8L593.5 592.8L597.5 592.8L600.5 592.8L604.5 592.8L608.5 592.8L611.5 592.8L615.5 592.8L619.5 592.8L622.5 592.8L626.5 592.8L630.5 592.8L633.5 592.8L637.5 592.8L641.5 592.8L644.5 592.8L648.5 592.8L652.5 592.8L655.5 592.8L659.5 592.8L662.5 592.8L666.5 592.8L670.5 592.8L673.5 591L677.5 584.9L681.5 585.8L684.5 579L688.5 576.2L692.5 592.8L695.5 592.8L699.5 592.8L703.5 592.8L706.5 592.8L710.5 592.8L714.5 592.8L717.5 592.8L721.5 592.8L725.5 592.8L728.5 592.8L732.5 592.8L736.5 592.8L739.5 592.8L743.5 592.8L746.5 592.8L750.5 592.8L754.5 592.8L757.5 592.8L761.5 592.8L765.5 592.8L768.5 592.8L772.5 592.8L776.5 592.8L779.5 592.8L783.5 592.8L787.5 592.8L790.5 592.8L794.5 592.8L798.5 592.8L801.5 592.8L805.5 592.8L809.5 592.8L812.5 592.8L816.5 592.8L820.5 592.8L823.5 592.8L827.5 592.8L831.5 592.8L834.5 592.8L838.5 592.8L841.5 592.8L845.5 592.8L849.5 592.8L852.5 592.8L856.5 592.8L860.5 592.8L863.5 592.8L867.5 592.8L871.5 592.8L874.5 592.8L878.5 592.8L882.5 592.8L885.5 592.8L889.5 592.8L893.5 592.8L896.5 592.8L900.5 592.8L904.5 592.8L907.5 592.8L911.5 592.8L915.5 592.8L918.5 592.8L922.5 592.8L926.5 592.8L929.5 592.8L933.5 592.8L936.5 592.8L940.5 592.8L944.5 592.8L947.5 592.8L951.5 592.8L955.5 592.8L958.5 592.8L962.5 592.8L966.5 592.8L969.5 592.8L973.5 592.8L977.5 592.8L980.5 592.8L984.5 592.8L988.5 592.8L991.5 591.6L995.5 586.5L999.5 592.8L1002.5 592.8L1006.5 592.8L1010.5 592.8L1013.5 592.8L1017.5 592.8L1020.5 592.8L1024.5 592.8L1028.5 592.8L1031.5 592.8L1035.5 592.8L1039.5 592.8L1042.5 592.8L1046.5 592.8L1050.5 592.8L1053.5 592.8L1057.5 592.8L1061.5 592.8L1064.5 592.8L1068.5 592.8L1072.5 592.8L1075.5 592.8L1079.5 592.8L1083.5 592.8L1086.5 592.8L1090.5 592.8L1094.5 592.8L1097.5 592.8L1101.5 592.8L1105.5 592.8L1108.5 592.8L1112.5 592.8L1115.5 592.8L1119.5 592.8L1123.5 592.8L1126.5 592.8L1130.5 592.8L1134.5 592.8L1137.5 592.8L1141.5 592.8L1145.5 592.8L1148.5 592.8L1152.5 592.8L1156.5 592.8L1159.5 592.8L1163.5 592.8L1167.5 592.8L1170.5 592.8L1174.5 592.8L1178.5 592.8L1181.5 592.8L1185.5 592.8L1189.5 592.8L1189.5 592.83Z" fill="url(#gob)"/>
<path d="M9.5 707.51L9.5 707.5L12.5 707.5L16.5 707.5L20.5 707.5L23.5 707.5L27.5 707.5L30.5 707.5L34.5 707.5L38.5 707.5L41.5 707.5L45.5 707.5L49.5 707.5L52.5 707.5L56.5 707.5L60.5 707.5L63.5 707.5L67.5 707.5L71.5 707.5L74.5 707.5L78.5 707.5L82.5 707.5L85.5 707.5L89.5 707.5L93.5 707.5L96.5 707.5L100.5 707.5L104.5 707.5L107.5 707.5L111.5 707.5L114.5 707.5L118.5 707.5L122.5 707.5L125.5 707.5L129.5 707.5L133.5 707.5L136.5 707.5L140.5 707.5L144.5 707.5L147.5 707.5L151.5 707.5L155.5 707.5L158.5 707.5L162.5 707.5L166.5 707.5L169.5 707.5L173.5 707.5L177.5 707.5L180.5 707.5L184.5 723.1L188.5 718.5L191.5 719.9L195.5 707.5L199.5 707.5L202.5 707.5L206.5 707.5L209.5 707.5L213.5 707.5L217.5 707.5L220.5 707.5L224.5 707.5L228.5 707.5L231.5 707.5L235.5 707.5L239.5 707.5L242.5 707.5L246.5 707.5L250.5 707.5L253.5 707.5L257.5 707.5L261.5 707.5L264.5 707.5L268.5 707.5L272.5 707.5L275.5 707.5L279.5 707.5L283.5 707.5L286.5 707.5L290.5 707.5L293.5 707.5L297.5 707.5L301.5 707.5L304.5 707.5L308.5 707.5L312.5 707.5L315.5 707.5L319.5 707.5L323.5 707.5L326.5 707.5L330.5 707.5L334.5 707.5L337.5 707.5L341.5 707.5L345.5 707.5L348.5 707.5L352.5 707.5L356.5 707.5L359.5 707.5L363.5 707.5L367.5 707.5L370.5 707.5L374.5 707.5L378.5 707.5L381.5 707.5L385.5 707.5L388.5 707.5L392.5 707.5L396.5 707.5L399.5 707.5L403.5 707.5L407.5 707.5L410.5 707.5L414.5 707.5L418.5 707.5L421.5 707.5L425.5 707.5L429.5 707.5L432.5 707.5L436.5 707.5L440.5 707.5L443.5 707.5L447.5 707.5L451.5 707.5L454.5 707.5L458.5 707.5L462.5 707.5L465.5 707.5L469.5 707.5L473.5 707.5L476.5 707.5L480.5 707.5L483.5 707.5L487.5 707.5L491.5 707.5L494.5 707.5L498.5 707.5L502.5 707.5L505.5 707.5L509.5 707.5L513.5 707.5L516.5 707.5L520.5 707.5L524.5 707.5L527.5 707.5L531.5 707.5L535.5 707.5L538.5 707.5L542.5 707.5L546.5 707.5L549.5 707.5L553.5 707.5L557.5 707.5L560.5 707.5L564.5 707.5L567.5 707.5L571.5 707.5L575.5 707.5L578.5 707.5L582.5 707.5L586.5 707.5L589.5 707.5L593.5 707.5L597.5 707.5L600.5 707.5L604.5 707.5L608.5 707.5L611.5 707.5L615.5 707.5L619.5 707.5L622.5 707.5L626.5 707.5L630.5 707.5L633.5 707.5L637.5 707.5L641.5 707.5L644.5 707.5L648.5 707.5L652.5 707.5L655.5 707.5L659.5 707.5L662.5 707.5L666.5 707.5L670.5 707.5L673.5 707.5L677.5 707.5L681.5 707.5L684.5 707.5L688.5 707.5L692.5 707.5L695.5 707.5L699.5 707.5L703.5 707.5L706.5 707.5L710.5 707.5L714.5 707.5L717.5 707.5L721.5 707.5L725.5 707.5L728.5 707.5L732.5 707.5L736.5 707.5L739.5 707.5L743.5 707.5L746.5 707.5L750.5 707.5L754.5 707.5L757.5 707.5L761.5 707.5L765.5 707.5L768.5 707.5L772.5 707.5L776.5 707.5L779.5 707.5L783.5 707.5L787.5 707.5L790.5 707.5L794.5 707.5L798.5 707.5L801.5 707.5L805.5 707.5L809.5 707.5L812.5 707.5L816.5 707.5L820.5 707.5L823.5 707.5L827.5 707.5L831.5 707.5L834.5 707.5L838.5 707.5L841.5 707.5L845.5 707.5L849.5 707.5L852.5 707.5L856.5 707.5L860.5 707.5L863.5 707.5L867.5 707.5L871.5 707.5L874.5 707.5L878.5 707.5L882.5 707.5L885.5 707.5L889.5 707.5L893.5 707.5L896.5 707.5L900.5 707.5L904.5 707.5L907.5 707.5L911.5 707.5L915.5 707.5L918.5 707.5L922.5 707.5L926.5 707.5L929.5 707.5L933.5 707.5L936.5 707.5L940.5 707.5L944.5 707.5L947.5 707.5L951.5 707.5L955.5 707.5L958.5 707.5L962.5 707.5L966.5 707.5L969.5 707.5L973.5 707.5L977.5 707.5L980.5 707.5L984.5 707.5L988.5 707.5L991.5 707.5L995.5 707.5L999.5 707.5L1002.5 707.5L1006.5 707.5L1010.5 707.5L1013.5 707.5L1017.5 707.5L1020.5 707.5L1024.5 707.5L1028.5 707.5L1031.5 707.5L1035.5 707.5L1039.5 707.5L1042.5 707.5L1046.5 707.5L1050.5 707.5L1053.5 707.5L1057.5 707.5L1061.5 707.5L1064.5 707.5L1068.5 707.5L1072.5 707.5L1075.5 707.5L1079.5 707.5L1083.5 707.5L1086.5 707.5L1090.5 707.5L1094.5 707.5L1097.5 707.5L1101.5 707.5L1105.5 707.5L1108.5 707.5L1112.5 707.5L1115.5 707.5L1119.5 707.5L1123.5 707.5L1126.5 707.5L1130.5 707.5L1134.5 707.5L1137.5 707.5L1141.5 707.5L1145.5 707.5L1148.5 709.9L1152.5 707.5L1156.5 708.8L1159.5 722.3L1163.5 725.9L1167.5 726.9L1170.5 710.5L1174.5 707.5L1178.5 707.5L1181.5 707.5L1185.5 707.5L1189.5 707.5L1189.5 707.51Z" fill="url(#gos)"/>
<path d="M10 592.5H1265" stroke="#787b86" stroke-width="1" stroke-dasharray="5 6" fill="none" shape-rendering="crispEdges"/>
<path d="M10 650.5H1265" stroke="#787b86" stroke-width="1" stroke-dasharray="5 6" fill="none" shape-rendering="crispEdges"/>
<path d="M10 707.5H1265" stroke="#787b86" stroke-width="1" stroke-dasharray="5 6" fill="none" shape-rendering="crispEdges"/>
<path d="M9.5 653.6L12.5 654.1L16.5 653.6L20.5 653.1L23.5 652.8L27.5 651.9L30.5 650L34.5 649.2L38.5 647.7L41.5 645.8L45.5 645.2L49.5 643.4L52.5 639.8L56.5 636.8L60.5 633.3L63.5 630.5L67.5 627.6L71.5 625.9L74.5 624.5L78.5 624.3L82.5 624.8L85.5 624.5L89.5 626.9L93.5 630.2L96.5 633.1L100.5 634.7L104.5 638.8L107.5 642.1L111.5 645.6L114.5 649.3L118.5 653L122.5 655.5L125.5 657.3L129.5 659.5L133.5 661.5L136.5 664.4L140.5 665.7L144.5 666L147.5 665.9L151.5 667.7L155.5 668.1L158.5 667.4L162.5 665.6L166.5 665.1L169.5 664.2L173.5 663.7L177.5 665.8L180.5 668L184.5 672.7L188.5 676.5L191.5 680.8L195.5 684L199.5 682.5L202.5 683.1L206.5 683.3L209.5 683.1L213.5 684.2L217.5 684.9L220.5 686L224.5 688.3L228.5 688.8L231.5 686.7L235.5 683.2L239.5 680.6L242.5 677L246.5 674.4L250.5 676.3L253.5 675.2L257.5 675L261.5 674.3L264.5 674.3L268.5 673.5L272.5 672.6L275.5 669.4L279.5 665.3L283.5 662.9L286.5 661L290.5 658.4L293.5 658L297.5 658.3L301.5 658.3L304.5 658.7L308.5 657.3L312.5 658.7L315.5 658.8L319.5 658.5L323.5 658.3L326.5 661L330.5 663.8L334.5 667.5L337.5 667.9L341.5 669.6L345.5 668.6L348.5 666.4L352.5 664.6L356.5 662.7L359.5 662.5L363.5 660.9L367.5 659.4L370.5 658.5L374.5 657.1L378.5 653.8L381.5 649.8L385.5 643L388.5 639.2L392.5 634.2L396.5 630.4L399.5 627.3L403.5 624.2L407.5 621L410.5 618L414.5 615.2L418.5 611.8L421.5 608.1L425.5 605.5L429.5 604L432.5 603.4L436.5 603.7L440.5 604L443.5 602.4L447.5 601.3L451.5 599.6L454.5 598L458.5 597.7L462.5 596.5L465.5 595.7L469.5 595.7L473.5 596.1L476.5 595.9L480.5 593.4L483.5 591.9L487.5 590.8L491.5 588.9L494.5 588.5L498.5 590.8L502.5 593.4L505.5 595L509.5 595.5L513.5 596.8L516.5 598.4L520.5 601.4L524.5 605L527.5 608L531.5 611.7L535.5 614.5L538.5 618.2L542.5 623L546.5 630.2L549.5 632.8L553.5 634.9L557.5 637.3L560.5 637.9L564.5 638.1L567.5 638.7L571.5 639.4L575.5 639.1L578.5 639.6L582.5 640.4L586.5 640.7L589.5 641.9L593.5 642.5L597.5 641.5L600.5 642.8L604.5 645.3L608.5 648.5L611.5 650.9L615.5 653.1L619.5 653.5L622.5 652.6L626.5 651.9L630.5 650.6L633.5 648.9L637.5 648.7L641.5 648.2L644.5 646.2L648.5 643.7L652.5 641.5L655.5 638.6L659.5 634.7L662.5 634.1L666.5 633.4L670.5 632.2L673.5 628.9L677.5 625.3L681.5 622L684.5 618.7L688.5 614.2L692.5 610.6L695.5 608.4L699.5 606.4L703.5 604.2L706.5 602.2L710.5 601.1L714.5 599.4L717.5 596.9L721.5 596.6L725.5 598.4L728.5 601.2L732.5 603.7L736.5 606L739.5 609.6L743.5 611.6L746.5 613.9L750.5 618.1L754.5 622.9L757.5 628.1L761.5 631.4L765.5 634.3L768.5 638.9L772.5 641.9L776.5 643L779.5 644.1L783.5 645.6L787.5 646.3L790.5 646.2L794.5 645.4L798.5 643.2L801.5 642.5L805.5 640.5L809.5 638.1L812.5 636.9L816.5 637.2L820.5 638.4L823.5 639.4L827.5 642.7L831.5 643.1L834.5 644.1L838.5 647.4L841.5 651.5L845.5 655.4L849.5 660.8L852.5 662.5L856.5 665.3L860.5 667.9L863.5 670.8L867.5 672.1L871.5 671L874.5 670.5L878.5 669.7L882.5 671.1L885.5 672.1L889.5 671.6L893.5 669.5L896.5 668.5L900.5 665.9L904.5 663.3L907.5 658.9L911.5 655L915.5 651.2L918.5 648L922.5 645L926.5 642.5L929.5 639.2L933.5 637L936.5 634.6L940.5 633.2L944.5 634.2L947.5 635.3L951.5 636.6L955.5 641L958.5 645.2L962.5 649.3L966.5 651.1L969.5 651.7L973.5 653.4L977.5 652.6L980.5 651.6L984.5 648.8L988.5 646L991.5 642.5L995.5 636.8L999.5 633L1002.5 629.5L1006.5 624.7L1010.5 624L1013.5 623.9L1017.5 624L1020.5 625.3L1024.5 626.9L1028.5 631.4L1031.5 637.2L1035.5 644.1L1039.5 650.6L1042.5 656.8L1046.5 662.5L1050.5 666.6L1053.5 671.7L1057.5 674.7L1061.5 673.6L1064.5 671.6L1068.5 670.2L1072.5 669.1L1075.5 667.8L1079.5 667L1083.5 666.1L1086.5 664.1L1090.5 662.3L1094.5 660.9L1097.5 661.9L1101.5 663.6L1105.5 663.8L1108.5 665.9L1112.5 667.5L1115.5 669.7L1119.5 672L1123.5 673.4L1126.5 675.3L1130.5 676.5L1134.5 677.6L1137.5 680.6L1141.5 683.3L1145.5 686.5L1148.5 688.7L1152.5 688.9L1156.5 690.7L1159.5 692.7L1163.5 696L1167.5 699L1170.5 701.9L1174.5 704.6L1178.5 706.5L1181.5 706.5L1185.5 705.4L1189.5 703.1" fill="none" stroke="#fdd835" stroke-width="1.3" stroke-linejoin="round" stroke-linecap="round"/>
<path d="M9.5 676L12.5 659.3L16.5 660.2L20.5 660.2L23.5 660.2L27.5 646.4L30.5 623.7L34.5 628L38.5 608.6L41.5 606.8L45.5 629.7L49.5 625.2L52.5 608.2L56.5 625.5L60.5 624.1L63.5 619.5L67.5 620.8L71.5 636.3L74.5 639.9L78.5 644.5L82.5 629.8L85.5 624.4L89.5 641.5L93.5 653.7L96.5 670.6L100.5 647.2L104.5 666L107.5 671.6L111.5 671.9L114.5 672.3L118.5 672.4L122.5 671.4L125.5 664.6L129.5 675.4L133.5 657.4L136.5 666.2L140.5 659L144.5 658.1L147.5 669.3L151.5 671.6L155.5 672.3L158.5 662.3L162.5 646.5L166.5 664.5L169.5 660.9L173.5 663L177.5 694.3L180.5 707.1L184.5 723.1L188.5 718.5L191.5 719.9L195.5 703.3L199.5 646.9L202.5 681.1L206.5 674.9L209.5 659.1L213.5 661.9L217.5 674.4L220.5 676.4L224.5 695.1L228.5 701.3L231.5 677.8L235.5 674L239.5 682.8L242.5 668.4L246.5 666.8L250.5 673.7L253.5 666L257.5 671.7L261.5 650L264.5 662.1L268.5 662.4L272.5 663.7L275.5 650.9L279.5 643.8L283.5 644.2L286.5 647.9L290.5 645.8L293.5 662.7L297.5 671.8L301.5 673.5L304.5 671.3L308.5 652.8L312.5 668.5L315.5 663.4L319.5 658.8L323.5 661.3L326.5 688.7L330.5 682.5L334.5 695.7L337.5 654.3L341.5 668.6L345.5 649.2L348.5 641.2L352.5 648.7L356.5 644.2L359.5 649.6L363.5 646.9L367.5 642.5L370.5 645.9L374.5 642L378.5 641.2L381.5 627.3L385.5 601L388.5 600.2L392.5 598.9L396.5 596.2L399.5 597.2L403.5 605.9L407.5 599.5L410.5 606.9L414.5 607.6L418.5 595.4L421.5 593.9L425.5 605.1L429.5 621.4L432.5 617.7L436.5 605.4L440.5 604.2L443.5 577.3L447.5 580.6L451.5 574L454.5 582.6L458.5 596L462.5 590L465.5 596.4L469.5 595L473.5 599.4L476.5 603.2L480.5 585.9L483.5 596.5L487.5 589.8L491.5 578.5L494.5 571.3L498.5 612.8L502.5 610.5L505.5 604.9L509.5 602.9L513.5 607.6L516.5 618.8L520.5 637.7L524.5 649.9L527.5 644.7L531.5 637.8L535.5 636.2L538.5 641.2L542.5 646.4L546.5 671.8L549.5 648.6L553.5 639.5L557.5 638.7L560.5 611.3L564.5 611L567.5 626.5L571.5 648.5L575.5 645.6L578.5 650.8L582.5 649.1L586.5 640L589.5 658.2L593.5 654.8L597.5 657.6L600.5 666.8L604.5 675.4L608.5 683.3L611.5 645.5L615.5 640.7L619.5 632.2L622.5 636.8L626.5 634.9L630.5 632.7L633.5 625.5L637.5 638L641.5 651L644.5 626.4L648.5 621.8L652.5 637.2L655.5 634.6L659.5 628L662.5 637L666.5 631.2L670.5 615.3L673.5 591L677.5 584.9L681.5 585.8L684.5 579L688.5 576.2L692.5 600.2L695.5 595.8L699.5 593.2L703.5 606.1L706.5 606.6L710.5 613.7L714.5 612.6L717.5 596.7L721.5 611.1L725.5 615.7L728.5 624.2L732.5 621.3L736.5 610.1L739.5 627.2L743.5 627.6L746.5 628.9L750.5 652L754.5 673.3L757.5 678.7L761.5 660.5L765.5 653.3L768.5 661.1L772.5 652.4L776.5 631L779.5 640.2L783.5 642.1L787.5 619.3L790.5 626.6L794.5 616.5L798.5 598.3L801.5 641.5L805.5 645.3L809.5 644.9L812.5 644.2L816.5 657L820.5 678.4L823.5 666.5L827.5 677.1L831.5 645.9L834.5 655.6L838.5 666.4L841.5 682.7L845.5 671.3L849.5 674.3L852.5 664.9L856.5 684.9L860.5 681.3L863.5 684.6L867.5 676.1L871.5 662.4L874.5 659.3L878.5 665.6L882.5 665.6L885.5 669.4L889.5 660.4L893.5 652.5L896.5 657.2L900.5 638.1L904.5 628L907.5 624.4L911.5 625.7L915.5 632.2L918.5 631.2L922.5 620.3L926.5 624.3L929.5 619L933.5 635.7L936.5 635.1L940.5 640.4L944.5 666.8L947.5 672.2L951.5 657.5L955.5 689.8L958.5 682.5L962.5 683.2L966.5 656.9L969.5 640L973.5 643.5L977.5 613.9L980.5 604.5L984.5 596.8L988.5 596.4L991.5 591.6L995.5 586.5L999.5 618.8L1002.5 608.2L1006.5 622.9L1010.5 673.3L1013.5 681.8L1017.5 658.3L1020.5 657.2L1024.5 666.9L1028.5 676.4L1031.5 686.2L1035.5 692.5L1039.5 687.3L1042.5 678.3L1046.5 666.4L1050.5 676.8L1053.5 680.2L1057.5 664L1061.5 658.4L1064.5 653.9L1068.5 638.4L1072.5 641.4L1075.5 649.5L1079.5 665.1L1083.5 673.8L1086.5 664.7L1090.5 661.2L1094.5 658.3L1097.5 680.4L1101.5 700.7L1105.5 683.9L1108.5 693.5L1112.5 680.7L1115.5 684.9L1119.5 669.5L1123.5 662.1L1126.5 675.7L1130.5 681.5L1134.5 689.7L1137.5 706.5L1141.5 698.9L1145.5 703.7L1148.5 709.9L1152.5 704.1L1156.5 708.8L1159.5 722.3L1163.5 725.9L1167.5 726.9L1170.5 710.5L1174.5 699.5L1178.5 703.1L1181.5 681L1185.5 674.6L1189.5 674.2" fill="none" stroke="#7e57c2" stroke-width="2.8" stroke-linejoin="round" stroke-linecap="round"/>
</g>
<text y="579.4" stroke="#131722" stroke-width="0.22"><tspan x="18.5" textLength="15.2" lengthAdjust="spacingAndGlyphs">RSI</tspan> <tspan x="38.7" textLength="19.2" lengthAdjust="spacingAndGlyphs">(14,</tspan> <tspan x="62.8" textLength="31.1" lengthAdjust="spacingAndGlyphs">close)</tspan></text>
<text x="101.8" y="579.4" fill="#7e57c2" textLength="29.2" lengthAdjust="spacingAndGlyphs" stroke="#7e57c2" stroke-width="0.22">41.16</text>
<text x="138.5" y="579.4" fill="#fdd835" textLength="29.5" lengthAdjust="spacingAndGlyphs" stroke="#fdd835" stroke-width="0.22">31.16</text>
<g shape-rendering="crispEdges" stroke="#e1e1e5">
<path d="M1265.5 28V765"/>
<path d="M10 559.5H1343" stroke="#e0e3eb"/>
<path d="M10 738.5H1343"/>
</g>
<g clip-path="url(#cpa)">
<text x="1274.6" y="77.1" textLength="58.3" lengthAdjust="spacingAndGlyphs" stroke="#131722" stroke-width="0.22">124,000.00</text>
<text x="1274.6" y="114.1" textLength="58.3" lengthAdjust="spacingAndGlyphs" stroke="#131722" stroke-width="0.22">120,000.00</text>
<text x="1274.6" y="151.1" textLength="58.3" lengthAdjust="spacingAndGlyphs" stroke="#131722" stroke-width="0.22">116,000.00</text>
<text x="1274.6" y="188.1" textLength="58.3" lengthAdjust="spacingAndGlyphs" stroke="#131722" stroke-width="0.22">112,000.00</text>
<text x="1274.6" y="225.1" textLength="58.3" lengthAdjust="spacingAndGlyphs" stroke="#131722" stroke-width="0.22">108,000.00</text>
<text x="1274.6" y="262.1" textLength="58.3" lengthAdjust="spacingAndGlyphs" stroke="#131722" stroke-width="0.22">104,000.00</text>
<text x="1274.6" y="336.1" textLength="52.2" lengthAdjust="spacingAndGlyphs" stroke="#131722" stroke-width="0.22">96,000.00</text>
<text x="1274.6" y="447.1" textLength="52.2" lengthAdjust="spacingAndGlyphs" stroke="#131722" stroke-width="0.22">84,000.00</text>
<text x="1274.6" y="484.1" textLength="52.2" lengthAdjust="spacingAndGlyphs" stroke="#131722" stroke-width="0.22">80,000.00</text>
<text x="1274.6" y="521.1" textLength="52.2" lengthAdjust="spacingAndGlyphs" stroke="#131722" stroke-width="0.22">76,000.00</text>
<text x="1274.6" y="558.1" textLength="52.2" lengthAdjust="spacingAndGlyphs" stroke="#131722" stroke-width="0.22">72,000.00</text>
<path d="M1266 46h71a2 2 0 0 1 2 2v13a2 2 0 0 1 -2 2h-71z" fill="#0000ff"/>
<rect x="1266" y="28" width="77" height="33" fill="#ffffff"/>
<rect x="1269" y="31" width="70" height="26" rx="4.5" fill="#ffffff" stroke="#f1f1f2" stroke-width="1.8"/>
<text x="1278.5" y="48.8" textLength="27.4" lengthAdjust="spacingAndGlyphs" stroke="#131722" stroke-width="0.22">USDT</text>
<path d="M1266 121h71a2 2 0 0 1 2 2v13a2 2 0 0 1 -2 2h-71z" fill="#0000ff"/>
<text x="1274.6" y="133.3" fill="#ffffff" textLength="58.3" lengthAdjust="spacingAndGlyphs" stroke="#ffffff" stroke-width="0.3">118,000.00</text>
<path d="M1266 223h71a2 2 0 0 1 2 2v13a2 2 0 0 1 -2 2h-71z" fill="#0000ff"/>
<text x="1274.6" y="235.3" fill="#ffffff" textLength="58.3" lengthAdjust="spacingAndGlyphs" stroke="#ffffff" stroke-width="0.3">107,000.00</text>
<path d="M1266 288h71a2 2 0 0 1 2 2v13a2 2 0 0 1 -2 2h-71z" fill="#0000ff"/>
<text x="1274.6" y="300.3" fill="#ffffff" textLength="58.3" lengthAdjust="spacingAndGlyphs" stroke="#ffffff" stroke-width="0.3">100,000.00</text>
<path d="M1266 530h64a2 2 0 0 1 2 2v13a2 2 0 0 1 -2 2h-64z" fill="#0000ff"/>
<text x="1274.6" y="542.3" fill="#ffffff" textLength="52.2" lengthAdjust="spacingAndGlyphs" stroke="#ffffff" stroke-width="0.3">73,777.00</text>
<path d="M1266 261h71a2 2 0 0 1 2 2v13a2 2 0 0 1 -2 2h-71z" fill="#f23645"/>
<text x="1274.6" y="273.3" fill="#ffffff" textLength="57.6" lengthAdjust="spacingAndGlyphs" stroke="#ffffff" stroke-width="0.3">102,891.13</text>
<path d="M1266 367h64a2 2 0 0 1 2 2v41a2 2 0 0 1 -2 2h-64z" fill="#26a69a"/>
<text x="1274.3" y="379.2" fill="#ffffff" textLength="52.4" lengthAdjust="spacingAndGlyphs" stroke="#ffffff" stroke-width="0.3">91,374.94</text>
<text x="1274.3" y="393.3" fill="#ffffff" textLength="36.5" lengthAdjust="spacingAndGlyphs" stroke="#ffffff" stroke-width="0.3">−1.27%</text>
<text x="1274.3" y="407.4" fill="#ffffff" textLength="46.3" lengthAdjust="spacingAndGlyphs" fill-opacity="0.8" stroke="#ffffff" stroke-width="0.3">07:25:52</text>
<path d="M1266 350h64a2 2 0 0 1 2 2v13a2 2 0 0 1 -2 2h-64z" fill="#2962ff"/>
<text x="1274.3" y="362.3" fill="#ffffff" textLength="52.4" lengthAdjust="spacingAndGlyphs" stroke="#ffffff" stroke-width="0.3">93,256.89</text>
</g>
<path d="M1265 261h-48a2 2 0 0 0 -2 2v13a2 2 0 0 0 2 2h48z" fill="#f23645"/>
<text x="1219.8" y="274" fill="#ffffff" textLength="41.2" lengthAdjust="spacingAndGlyphs" stroke="#ffffff" stroke-width="0.3">SMA:MA</text>
<path d="M1265 367h-55a2 2 0 0 0 -2 2v13a2 2 0 0 0 2 2h55z" fill="#26a69a"/>
<text x="1212.3" y="380" fill="#ffffff" textLength="48.3" lengthAdjust="spacingAndGlyphs" stroke="#ffffff" stroke-width="0.3">BTCUSDT</text>
<path d="M1265 350h-29a2 2 0 0 0 -2 2v13a2 2 0 0 0 2 2h29z" fill="#2962ff"/>
<text x="1239.2" y="363" fill="#ffffff" textLength="22.5" lengthAdjust="spacingAndGlyphs" stroke="#ffffff" stroke-width="0.3">EMA</text>
<g clip-path="url(#cra)">
<text x="1274.3" y="567.9" textLength="29.3" lengthAdjust="spacingAndGlyphs" stroke="#131722" stroke-width="0.22">80.00</text>
<text x="1274.3" y="626.1" textLength="29.3" lengthAdjust="spacingAndGlyphs" stroke="#131722" stroke-width="0.22">60.00</text>
<text x="1274.3" y="683.4" textLength="29.3" lengthAdjust="spacingAndGlyphs" stroke="#131722" stroke-width="0.22">40.00</text>
<text x="1274.3" y="740.7" textLength="29.3" lengthAdjust="spacingAndGlyphs" stroke="#131722" stroke-width="0.22">20.00</text>
<path d="M1266 667h41a2 2 0 0 1 2 2v13a2 2 0 0 1 -2 2h-41z" fill="#7e57c2"/>
<text x="1274.3" y="680.3" fill="#ffffff" textLength="29.3" lengthAdjust="spacingAndGlyphs" stroke="#ffffff" stroke-width="0.3">41.16</text>
<path d="M1266 696h41a2 2 0 0 1 2 2v13a2 2 0 0 1 -2 2h-41z" fill="#fdd835"/>
<text x="1274.3" y="709.3" fill="#000000" textLength="29.3" lengthAdjust="spacingAndGlyphs" stroke="#000000" stroke-width="0.22">31.16</text>
</g>
<path d="M1265 667h-23a2 2 0 0 0 -2 2v13a2 2 0 0 0 2 2h23z" fill="#7e57c2"/>
<text x="1244.7" y="680.1" fill="#ffffff" textLength="16" lengthAdjust="spacingAndGlyphs" stroke="#ffffff" stroke-width="0.3">RSI</text>
<path d="M1265 696h-77a2 2 0 0 0 -2 2v13a2 2 0 0 0 2 2h77z" fill="#fdd835"/>
<text x="1190.5" y="709.2" fill="#000000" textLength="70.5" lengthAdjust="spacingAndGlyphs" stroke="#000000" stroke-width="0.22">RSI-based MA</text>
<text x="82.7" y="756" textLength="19.6" lengthAdjust="spacingAndGlyphs" stroke="#131722" stroke-width="0.35">Feb</text>
<text x="184.6" y="756" textLength="19.8" lengthAdjust="spacingAndGlyphs" stroke="#131722" stroke-width="0.35">Mar</text>
<text x="297.4" y="756" textLength="20.2" lengthAdjust="spacingAndGlyphs" stroke="#131722" stroke-width="0.35">Apr</text>
<text x="406.55" y="756" textLength="21.9" lengthAdjust="spacingAndGlyphs" stroke="#131722" stroke-width="0.35">May</text>
<text x="520.2" y="756" textLength="20.6" lengthAdjust="spacingAndGlyphs" stroke="#131722" stroke-width="0.35">Jun</text>
<text x="631.95" y="756" textLength="17.1" lengthAdjust="spacingAndGlyphs" stroke="#131722" stroke-width="0.35">Jul</text>
<text x="743.05" y="756" textLength="20.9" lengthAdjust="spacingAndGlyphs" stroke="#131722" stroke-width="0.35">Aug</text>
<text x="856.55" y="756" textLength="19.9" lengthAdjust="spacingAndGlyphs" stroke="#131722" stroke-width="0.35">Sep</text>
<text x="967.05" y="756" textLength="18.9" lengthAdjust="spacingAndGlyphs" stroke="#131722" stroke-width="0.35">Oct</text>
<text x="1079.05" y="756" textLength="20.9" lengthAdjust="spacingAndGlyphs" stroke="#131722" stroke-width="0.35">Nov</text>
<text x="1188.3" y="756" textLength="20.4" lengthAdjust="spacingAndGlyphs" stroke="#131722" stroke-width="0.35">Dec</text>
<g transform="translate(12.1 784.7) scale(0.8333)" fill="#141414"><path d="M14 22H7V11H0V4h14v18zM28 22h-8l7.5-18h8L28 22z"/><circle cx="20" cy="8" r="4"/></g>
<text x="49.2" y="802.8" font-size="20.5" fill="#141414" textLength="120.5" lengthAdjust="spacingAndGlyphs" font-weight="bold" stroke="#141414" stroke-width="0.3">TradingView</text>
</svg>
</body></html>
